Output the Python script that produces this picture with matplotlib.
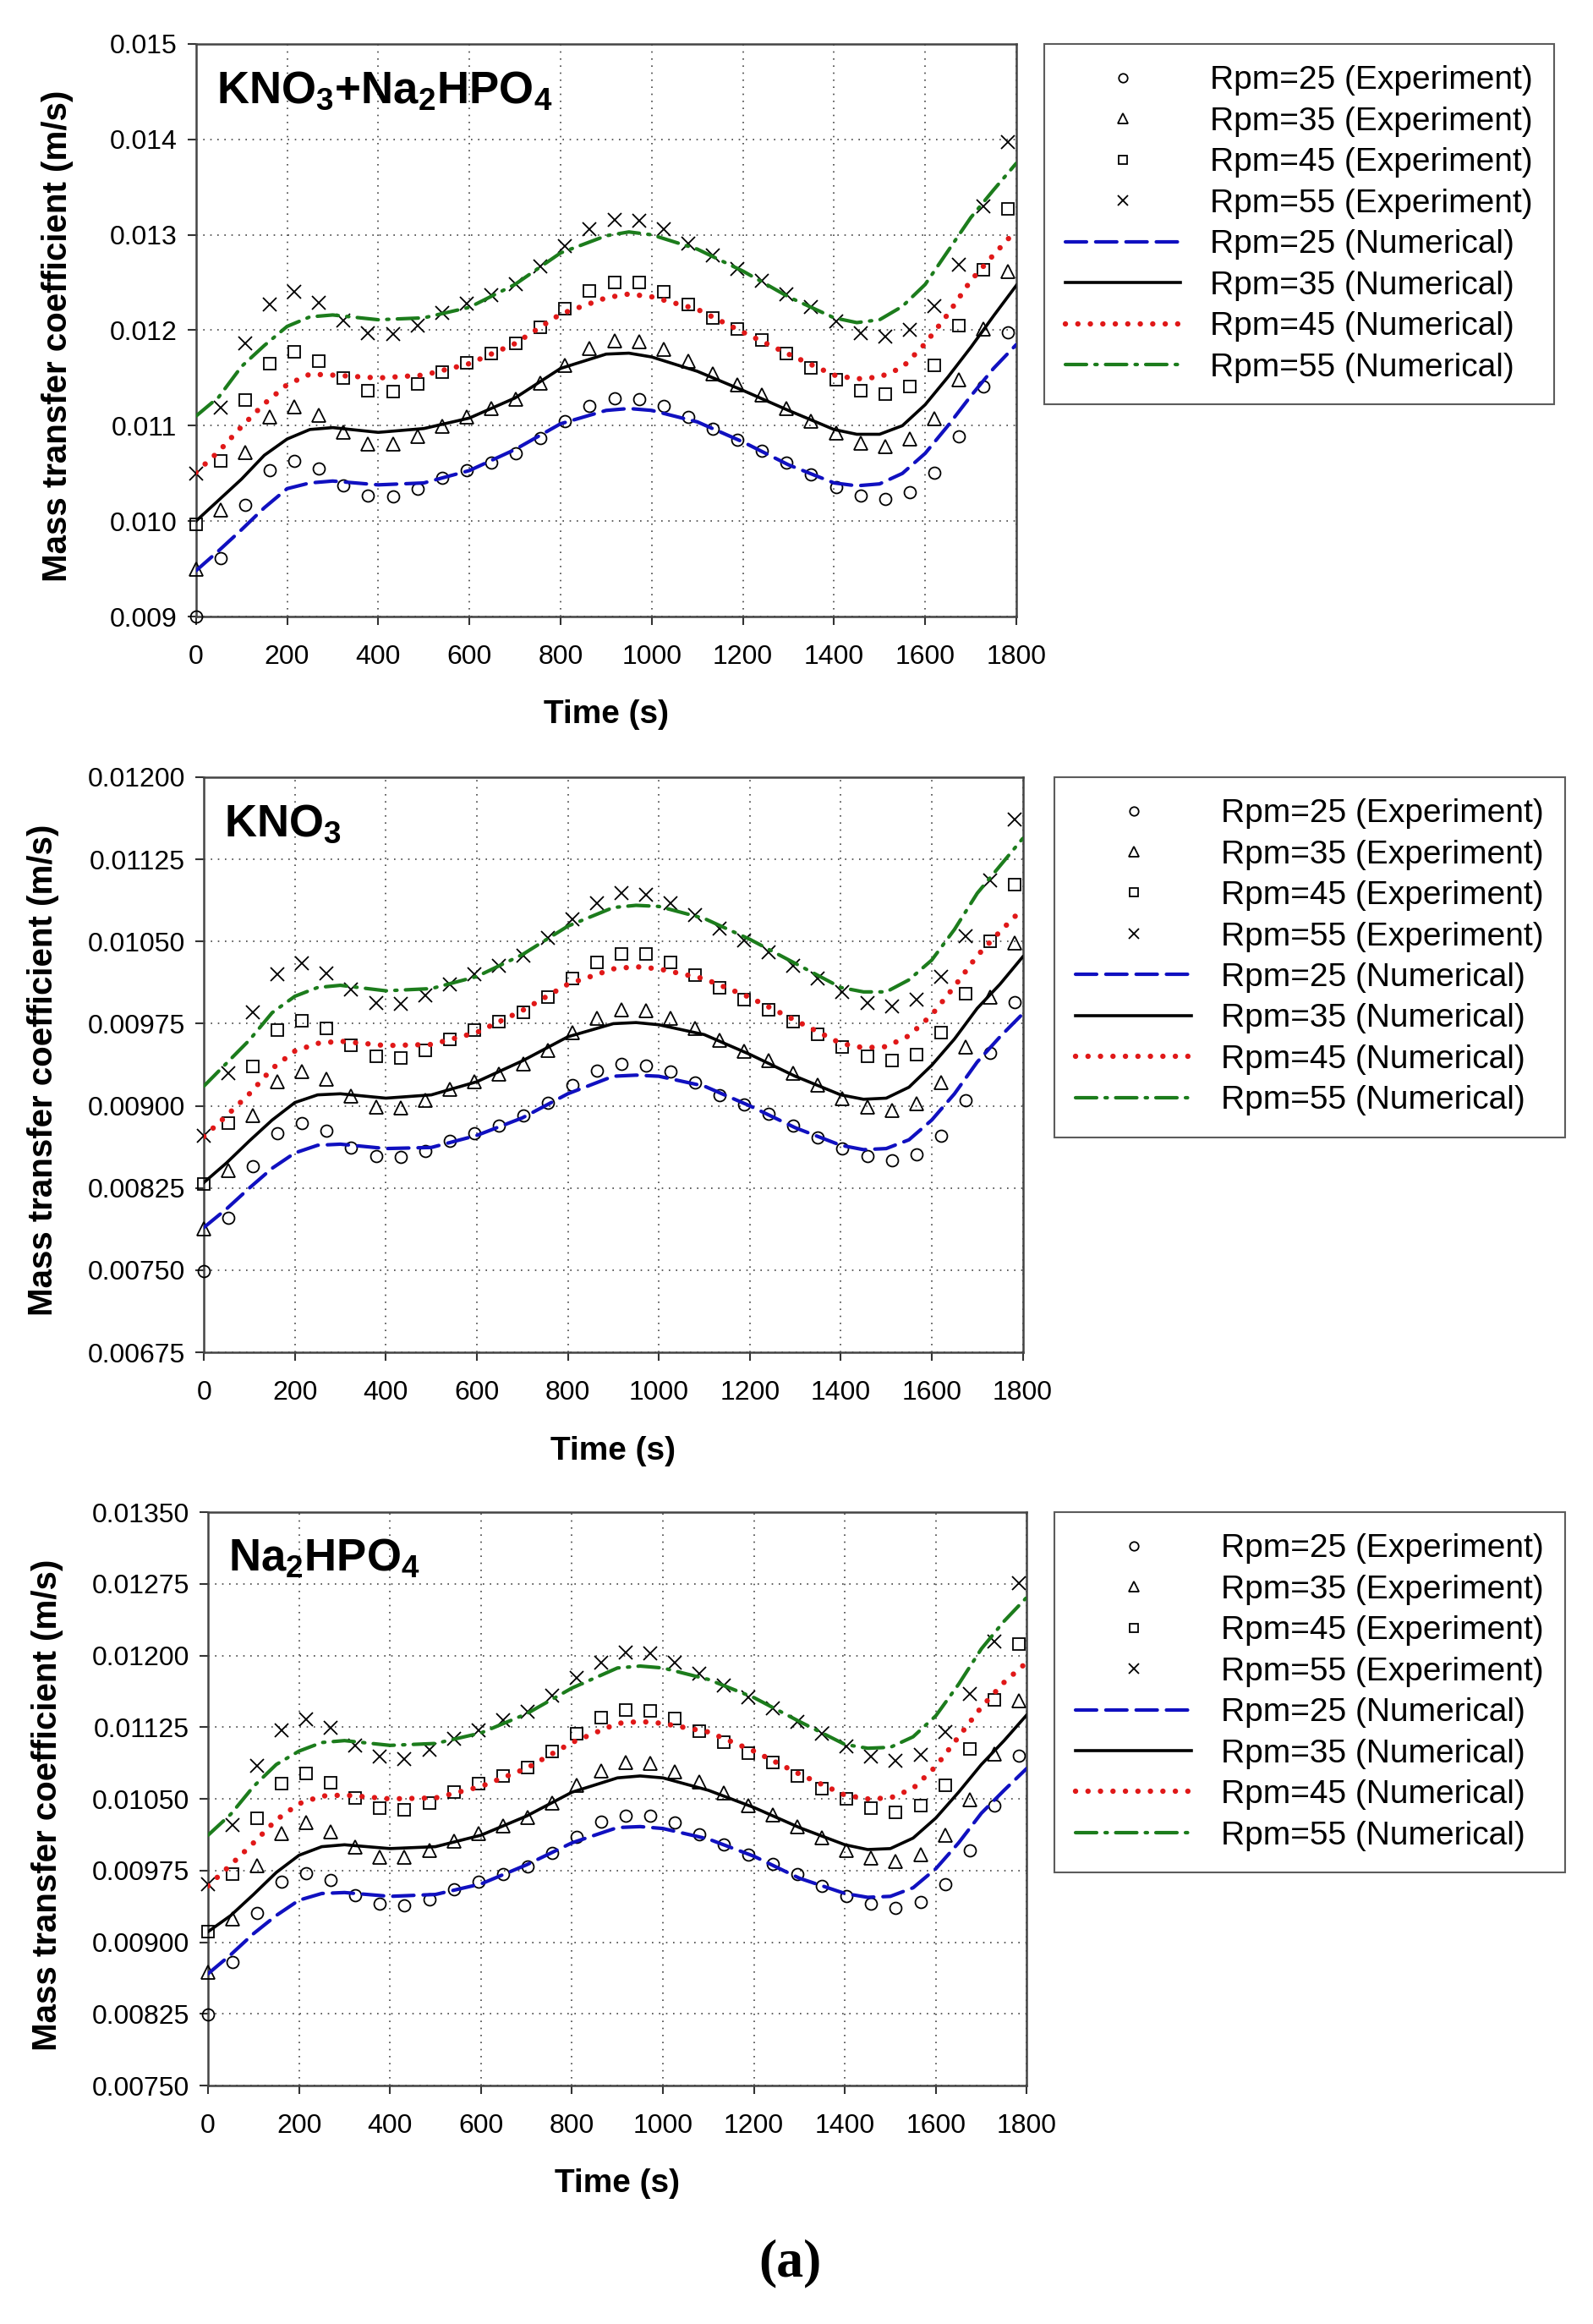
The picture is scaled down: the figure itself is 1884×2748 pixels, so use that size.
# Mass transfer coefficient vs time for three salt solutions:
# experiment points and numerical curves at four stirring speeds.

import matplotlib
matplotlib.use("Agg")
import matplotlib.pyplot as plt
from matplotlib.ticker import FormatStrFormatter

plt.rcParams['font.family'] = ['Liberation Sans', 'DejaVu Sans']
plt.rcParams['mathtext.fontset'] = 'custom'
plt.rcParams['mathtext.bf'] = 'Liberation Sans:bold'
plt.rcParams['mathtext.rm'] = 'Liberation Sans'

# Time of experiment points (s)
EXP_T = [0, 54, 108, 162, 216, 270, 324, 378, 432, 486, 540, 594, 648, 702,
         756, 810, 864, 918, 972, 1026, 1080, 1134, 1188, 1242, 1296, 1350,
         1404, 1458, 1512, 1566, 1620, 1674, 1728, 1782]

# Time of points (s)
LINE_T = [0, 50, 100, 150, 200, 250, 300, 400, 500, 600, 700, 800, 900, 950,
          1000, 1100, 1200, 1300, 1400, 1450, 1500, 1550, 1600, 1650, 1700,
          1750, 1800]

# KNO3 + Na2HPO4
MIX_EXP_25 = [0.00900, 0.00961, 0.01017, 0.01053, 0.01063, 0.01055, 0.01037, 0.01027, 0.01026, 0.01034,
              0.01045, 0.01053, 0.01061, 0.01071, 0.01087, 0.01105, 0.01121, 0.01129, 0.01128, 0.01121,
              0.01109, 0.01097, 0.01085, 0.01074, 0.01061, 0.01049, 0.01036, 0.01027, 0.01023, 0.01030,
              0.01051, 0.01089, 0.01141, 0.01198]
MIX_EXP_35 = [0.00950, 0.01012, 0.01072, 0.01109, 0.01120, 0.01111, 0.01093, 0.01081, 0.01081, 0.01089,
              0.01099, 0.01109, 0.01118, 0.01128, 0.01145, 0.01163, 0.01181, 0.01189, 0.01188, 0.01180,
              0.01168, 0.01154, 0.01143, 0.01132, 0.01118, 0.01105, 0.01092, 0.01082, 0.01078, 0.01086,
              0.01107, 0.01148, 0.01201, 0.01262]
MIX_EXP_45 = [0.00997, 0.01063, 0.01127, 0.01165, 0.01177, 0.01168, 0.01150, 0.01137, 0.01136, 0.01144,
              0.01156, 0.01166, 0.01176, 0.01186, 0.01203, 0.01223, 0.01241, 0.01250, 0.01250, 0.01240,
              0.01227, 0.01213, 0.01201, 0.01190, 0.01176, 0.01161, 0.01148, 0.01137, 0.01133, 0.01141,
              0.01163, 0.01205, 0.01263, 0.01327]
MIX_EXP_55 = [0.01050, 0.01119, 0.01186, 0.01227, 0.01240, 0.01229, 0.01210, 0.01197, 0.01196, 0.01205,
              0.01218, 0.01228, 0.01237, 0.01248, 0.01267, 0.01288, 0.01306, 0.01316, 0.01315, 0.01306,
              0.01291, 0.01278, 0.01264, 0.01252, 0.01238, 0.01224, 0.01209, 0.01197, 0.01193, 0.01200,
              0.01225, 0.01269, 0.01330, 0.01397]
MIX_NUM_25 = [0.00948, 0.00969, 0.00991, 0.01014, 0.01034, 0.01040, 0.01042, 0.01038, 0.01040, 0.01053,
              0.01075, 0.01102, 0.01116, 0.01118, 0.01116, 0.01104, 0.01083, 0.01059, 0.01040, 0.01037,
              0.01039, 0.01050, 0.01071, 0.01100, 0.01131, 0.01160, 0.01185]
MIX_NUM_35 = [0.01000, 0.01022, 0.01044, 0.01069, 0.01086, 0.01096, 0.01098, 0.01093, 0.01097, 0.01108,
              0.01129, 0.01160, 0.01175, 0.01176, 0.01172, 0.01157, 0.01137, 0.01116, 0.01096, 0.01091,
              0.01091, 0.01100, 0.01122, 0.01151, 0.01182, 0.01215, 0.01247]
MIX_NUM_45 = [0.01051, 0.01073, 0.01099, 0.01123, 0.01143, 0.01154, 0.01153, 0.01150, 0.01153, 0.01165,
              0.01186, 0.01217, 0.01234, 0.01238, 0.01235, 0.01222, 0.01198, 0.01175, 0.01153, 0.01149,
              0.01151, 0.01161, 0.01186, 0.01217, 0.01252, 0.01279, 0.01305]
MIX_NUM_55 = [0.01110, 0.01130, 0.01162, 0.01184, 0.01204, 0.01214, 0.01216, 0.01211, 0.01213, 0.01224,
              0.01248, 0.01281, 0.01299, 0.01303, 0.01300, 0.01285, 0.01262, 0.01235, 0.01213, 0.01208,
              0.01211, 0.01225, 0.01248, 0.01283, 0.01318, 0.01347, 0.01375]

# KNO3
KNO_EXP_25 = [0.00749, 0.00798, 0.00845, 0.00875, 0.00884, 0.00877, 0.00862, 0.00854, 0.00853, 0.00859,
              0.00868, 0.00875, 0.00882, 0.00891, 0.00903, 0.00919, 0.00932, 0.00938, 0.00937, 0.00931,
              0.00921, 0.00910, 0.00901, 0.00893, 0.00882, 0.00871, 0.00861, 0.00854, 0.00850, 0.00856,
              0.00873, 0.00905, 0.00948, 0.00995]
KNO_EXP_35 = [0.00788, 0.00841, 0.00891, 0.00922, 0.00931, 0.00924, 0.00909, 0.00899, 0.00898, 0.00905,
              0.00915, 0.00922, 0.00929, 0.00938, 0.00951, 0.00967, 0.00980, 0.00988, 0.00987, 0.00980,
              0.00971, 0.00960, 0.00950, 0.00941, 0.00930, 0.00919, 0.00907, 0.00899, 0.00896, 0.00902,
              0.00921, 0.00954, 0.00999, 0.01049]
KNO_EXP_45 = [0.00829, 0.00884, 0.00936, 0.00969, 0.00978, 0.00971, 0.00955, 0.00945, 0.00944, 0.00951,
              0.00961, 0.00969, 0.00977, 0.00985, 0.00999, 0.01016, 0.01031, 0.01039, 0.01039, 0.01031,
              0.01019, 0.01008, 0.00997, 0.00988, 0.00977, 0.00965, 0.00954, 0.00945, 0.00941, 0.00947,
              0.00967, 0.01002, 0.01050, 0.01102]
KNO_EXP_55 = [0.00873, 0.00930, 0.00985, 0.01020, 0.01030, 0.01021, 0.01006, 0.00994, 0.00993, 0.01001,
              0.01011, 0.01020, 0.01028, 0.01037, 0.01053, 0.01070, 0.01085, 0.01094, 0.01093, 0.01085,
              0.01074, 0.01062, 0.01051, 0.01040, 0.01028, 0.01016, 0.01004, 0.00994, 0.00991, 0.00997,
              0.01018, 0.01055, 0.01106, 0.01161]
KNO_NUM_25 = [0.00789, 0.00806, 0.00825, 0.00843, 0.00857, 0.00864, 0.00865, 0.00861, 0.00862, 0.00873,
              0.00889, 0.00911, 0.00927, 0.00928, 0.00927, 0.00918, 0.00900, 0.00880, 0.00864, 0.00860,
              0.00861, 0.00869, 0.00887, 0.00911, 0.00940, 0.00963, 0.00984]
KNO_NUM_35 = [0.00830, 0.00848, 0.00868, 0.00887, 0.00903, 0.00910, 0.00911, 0.00907, 0.00910, 0.00922,
              0.00941, 0.00963, 0.00975, 0.00976, 0.00974, 0.00965, 0.00947, 0.00927, 0.00910, 0.00906,
              0.00907, 0.00917, 0.00937, 0.00961, 0.00989, 0.01011, 0.01036]
KNO_NUM_45 = [0.00872, 0.00891, 0.00911, 0.00934, 0.00950, 0.00957, 0.00959, 0.00955, 0.00956, 0.00967,
              0.00987, 0.01011, 0.01025, 0.01027, 0.01025, 0.01016, 0.00999, 0.00978, 0.00957, 0.00953,
              0.00954, 0.00964, 0.00983, 0.01009, 0.01037, 0.01059, 0.01080]
KNO_NUM_55 = [0.00918, 0.00939, 0.00960, 0.00985, 0.01000, 0.01008, 0.01010, 0.01005, 0.01007, 0.01018,
              0.01038, 0.01064, 0.01081, 0.01083, 0.01082, 0.01071, 0.01052, 0.01030, 0.01008, 0.01004,
              0.01004, 0.01015, 0.01033, 0.01061, 0.01094, 0.01119, 0.01144]

# Na2HPO4
NAP_EXP_25 = [0.00824, 0.00879, 0.00931, 0.00963, 0.00972, 0.00965, 0.00949, 0.00940, 0.00939, 0.00945,
              0.00955, 0.00963, 0.00971, 0.00979, 0.00993, 0.01010, 0.01026, 0.01032, 0.01032, 0.01025,
              0.01013, 0.01002, 0.00992, 0.00982, 0.00971, 0.00959, 0.00948, 0.00940, 0.00936, 0.00942,
              0.00961, 0.00996, 0.01043, 0.01095]
NAP_EXP_35 = [0.00869, 0.00924, 0.00980, 0.01014, 0.01025, 0.01016, 0.01000, 0.00989, 0.00989, 0.00996,
              0.01006, 0.01014, 0.01022, 0.01031, 0.01046, 0.01064, 0.01079, 0.01088, 0.01087, 0.01078,
              0.01068, 0.01056, 0.01043, 0.01033, 0.01021, 0.01009, 0.00996, 0.00988, 0.00985, 0.00992,
              0.01012, 0.01049, 0.01097, 0.01153]
NAP_EXP_45 = [0.00911, 0.00971, 0.01030, 0.01066, 0.01077, 0.01067, 0.01051, 0.01040, 0.01039, 0.01046,
              0.01057, 0.01066, 0.01074, 0.01083, 0.01100, 0.01118, 0.01135, 0.01143, 0.01142, 0.01134,
              0.01121, 0.01109, 0.01098, 0.01088, 0.01074, 0.01061, 0.01050, 0.01040, 0.01036, 0.01043,
              0.01064, 0.01102, 0.01154, 0.01212]
NAP_EXP_55 = [0.00961, 0.01023, 0.01085, 0.01122, 0.01133, 0.01124, 0.01106, 0.01094, 0.01092, 0.01101,
              0.01113, 0.01122, 0.01132, 0.01141, 0.01158, 0.01177, 0.01193, 0.01203, 0.01202, 0.01193,
              0.01181, 0.01169, 0.01156, 0.01145, 0.01131, 0.01118, 0.01105, 0.01094, 0.01090, 0.01096,
              0.01120, 0.01160, 0.01215, 0.01276]
NAP_NUM_25 = [0.00867, 0.00887, 0.00909, 0.00928, 0.00944, 0.00951, 0.00952, 0.00948, 0.00950, 0.00961,
              0.00981, 0.01004, 0.01020, 0.01021, 0.01019, 0.01008, 0.00990, 0.00967, 0.00951, 0.00947,
              0.00948, 0.00957, 0.00977, 0.01004, 0.01035, 0.01059, 0.01082]
NAP_NUM_35 = [0.00911, 0.00928, 0.00950, 0.00973, 0.00991, 0.01000, 0.01002, 0.00998, 0.01000, 0.01012,
              0.01032, 0.01057, 0.01072, 0.01074, 0.01072, 0.01059, 0.01041, 0.01020, 0.01002, 0.00997,
              0.00998, 0.01009, 0.01030, 0.01057, 0.01086, 0.01111, 0.01138]
NAP_NUM_45 = [0.00959, 0.00981, 0.01004, 0.01028, 0.01045, 0.01053, 0.01054, 0.01050, 0.01051, 0.01063,
              0.01082, 0.01109, 0.01129, 0.01131, 0.01129, 0.01120, 0.01100, 0.01076, 0.01054, 0.01050,
              0.01051, 0.01061, 0.01084, 0.01115, 0.01146, 0.01172, 0.01193]
NAP_NUM_55 = [0.01012, 0.01034, 0.01063, 0.01086, 0.01100, 0.01109, 0.01111, 0.01106, 0.01108, 0.01119,
              0.01139, 0.01166, 0.01187, 0.01189, 0.01187, 0.01175, 0.01156, 0.01131, 0.01107, 0.01103,
              0.01104, 0.01115, 0.01137, 0.01170, 0.01207, 0.01236, 0.01261]

RPMS = [25, 35, 45, 55]
X_TICKS = [0, 200, 400, 600, 800, 1000, 1200, 1400, 1600, 1800]
MIX_Y_TICKS = [0.009, 0.010, 0.011, 0.012, 0.013, 0.014, 0.015]
KNO_Y_TICKS = [0.00675, 0.00750, 0.00825, 0.00900, 0.00975, 0.01050, 0.01125, 0.01200]
NAP_Y_TICKS = [0.00750, 0.00825, 0.00900, 0.00975, 0.01050, 0.01125, 0.01200, 0.01275, 0.01350]

# Styles per rpm
MARKERS = ['o', '^', 's', 'x']
MARKER_SIZES = [10, 11, 9.5, 11]
LINE_COLORS = ['#1010c0', 'black', '#e01818', '#1c7c1c']
LINE_STYLES = [(0, (6, 2.6)), '-', (0, (0.01, 2.3)), (0, (6, 2.4, 0.6, 2.4))]
LINE_WIDTHS = [3.0, 2.6, 4.6, 3.0]


def draw_panel(ax, title, exp_sets, num_sets, y_ticks, fmt, label_x):
    # experiment markers
    for i in range(4):
        ax.plot(EXP_T, exp_sets[i], linestyle='none', marker=MARKERS[i],
                markersize=MARKER_SIZES[i], markerfacecolor='none',
                markeredgecolor='black', markeredgewidth=1.3, clip_on=False,
                label=f"Rpm={RPMS[i]} (Experiment)", zorder=3)
    # numerical curves
    for i in range(4):
        ax.plot(LINE_T, num_sets[i], color=LINE_COLORS[i], linestyle=LINE_STYLES[i],
                linewidth=LINE_WIDTHS[i], dash_capstyle='round',
                label=f"Rpm={RPMS[i]} (Numerical)", zorder=4)

    ax.set_xlim(0, 1800)
    ax.set_ylim(y_ticks[0], y_ticks[-1])
    ax.set_xticks(X_TICKS)
    ax.set_yticks(y_ticks)
    ax.yaxis.set_major_formatter(FormatStrFormatter(fmt))
    ax.tick_params(direction='out', length=7, width=1.5, labelsize=23, color='#333333')
    ax.tick_params(axis='x', pad=17)
    ax.tick_params(axis='y', pad=9)
    ax.grid(True, linestyle=(0, (1, 4)), color='#444444', linewidth=1.2)
    for sp in ax.spines.values():
        sp.set_color('#444444')
        sp.set_linewidth(1.8)

    ax.set_xlabel("Time (s)", fontsize=28, fontweight='bold')
    ax.xaxis.set_label_coords(0.5, -0.145)
    ax.set_ylabel("Mass transfer coefficient (m/s)", fontsize=29, fontweight='bold')
    ax.yaxis.set_label_coords(label_x, 0.49)

    ax.text(0.025, 0.955, title, transform=ax.transAxes, fontsize=38,
            va='top', ha='left')


def add_legend(fig, ax, left, top):
    handles, labels = ax.get_legend_handles_labels()
    leg = fig.legend(handles, labels, loc='upper left', bbox_to_anchor=(left, top),
                     fontsize=28, frameon=True, fancybox=False, edgecolor='#333333',
                     handlelength=3.5, handletextpad=0.9, labelspacing=0.32,
                     borderpad=0.65, borderaxespad=0, markerscale=0.75)
    leg.get_frame().set_linewidth(1.5)


fig = plt.figure(figsize=(18.84, 27.48), dpi=100)

ax1 = fig.add_axes([0.123, 0.7347, 0.515, 0.2464])
draw_panel(ax1, r'$\mathbf{KNO_3{+}Na_2HPO_4}$',
           [MIX_EXP_25, MIX_EXP_35, MIX_EXP_45, MIX_EXP_55],
           [MIX_NUM_25, MIX_NUM_35, MIX_NUM_45, MIX_NUM_55],
           MIX_Y_TICKS, '%.3f', -0.149)
add_legend(fig, ax1, 0.6555, 0.981)

ax2 = fig.add_axes([0.128, 0.4181, 0.514, 0.2475])
draw_panel(ax2, r'$\mathbf{KNO_3}$',
           [KNO_EXP_25, KNO_EXP_35, KNO_EXP_45, KNO_EXP_55],
           [KNO_NUM_25, KNO_NUM_35, KNO_NUM_45, KNO_NUM_55],
           KNO_Y_TICKS, '%.5f', -0.177)
add_legend(fig, ax2, 0.662, 0.6656)

ax3 = fig.add_axes([0.1306, 0.1026, 0.514, 0.2467])
draw_panel(ax3, r'$\mathbf{Na_2HPO_4}$',
           [NAP_EXP_25, NAP_EXP_35, NAP_EXP_45, NAP_EXP_55],
           [NAP_NUM_25, NAP_NUM_35, NAP_NUM_45, NAP_NUM_55],
           NAP_Y_TICKS, '%.5f', -0.177)
add_legend(fig, ax3, 0.662, 0.3493)

fig.text(0.496, 0.026, "(a)", fontsize=46, fontweight='bold',
         family=['Liberation Serif', 'DejaVu Serif'], ha='center', va='center')

fig.savefig("out.png", dpi=100)
